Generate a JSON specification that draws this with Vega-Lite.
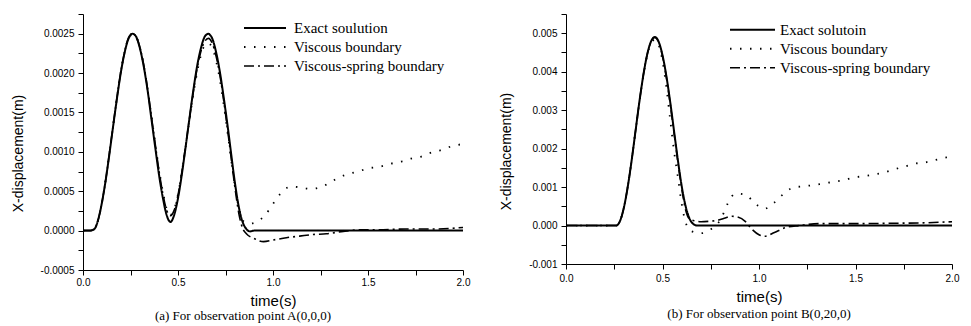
{
  "$schema": "https://vega.github.io/schema/vega-lite/v6.json",
  "padding": {"left": 11, "top": 9, "right": 5, "bottom": 0},
  "spacing": 29,
  "config": {
    "view": {"stroke": null},
    "axis": {"grid": false, "domainColor": "black", "tickColor": "black", "labelColor": "black", "labelFont": "Liberation Sans", "labelFontSize": 10, "titleFont": "Liberation Sans", "titleFontWeight": "normal", "titleColor": "black", "labelFlush": false, "labelOverlap": false},
    "title": {"font": "Liberation Serif", "fontSize": 13, "fontWeight": "normal", "color": "black", "orient": "bottom", "anchor": "middle"}
  },
  "resolve": {"scale": {"x": "independent", "y": "independent", "strokeDash": "independent", "strokeWidth": "independent"}, "legend": {"strokeDash": "independent"}},
  "datasets": {
    "left": [
      {"s": "Exact soulution", "t": 0, "v": 0}, {"s": "Exact soulution", "t": 0.02, "v": 0}, {"s": "Exact soulution", "t": 0.04, "v": 0.000002}, {"s": "Exact soulution", "t": 0.06, "v": 0.00002}, {"s": "Exact soulution", "t": 0.08, "v": 0.00014}, {"s": "Exact soulution", "t": 0.10, "v": 0.00036}, {"s": "Exact soulution", "t": 0.12, "v": 0.00065}, {"s": "Exact soulution", "t": 0.14, "v": 0.00099}, {"s": "Exact soulution", "t": 0.16, "v": 0.00135}, {"s": "Exact soulution", "t": 0.18, "v": 0.0017}, {"s": "Exact soulution", "t": 0.20, "v": 0.00202}, {"s": "Exact soulution", "t": 0.22, "v": 0.00227}, {"s": "Exact soulution", "t": 0.24, "v": 0.00244}, {"s": "Exact soulution", "t": 0.25, "v": 0.00248}, {"s": "Exact soulution", "t": 0.26, "v": 0.0025}, {"s": "Exact soulution", "t": 0.27, "v": 0.00249}, {"s": "Exact soulution", "t": 0.28, "v": 0.00246}, {"s": "Exact soulution", "t": 0.30, "v": 0.00231}, {"s": "Exact soulution", "t": 0.32, "v": 0.00208}, {"s": "Exact soulution", "t": 0.34, "v": 0.00178}, {"s": "Exact soulution", "t": 0.36, "v": 0.00142}, {"s": "Exact soulution", "t": 0.38, "v": 0.00106}, {"s": "Exact soulution", "t": 0.40, "v": 0.00071}, {"s": "Exact soulution", "t": 0.42, "v": 0.00042}, {"s": "Exact soulution", "t": 0.44, "v": 0.0002}, {"s": "Exact soulution", "t": 0.46, "v": 0.00011}, {"s": "Exact soulution", "t": 0.48, "v": 0.0002}, {"s": "Exact soulution", "t": 0.50, "v": 0.00041}, {"s": "Exact soulution", "t": 0.52, "v": 0.00071}, {"s": "Exact soulution", "t": 0.54, "v": 0.00106}, {"s": "Exact soulution", "t": 0.56, "v": 0.00142}, {"s": "Exact soulution", "t": 0.58, "v": 0.00177}, {"s": "Exact soulution", "t": 0.60, "v": 0.00208}, {"s": "Exact soulution", "t": 0.62, "v": 0.00231}, {"s": "Exact soulution", "t": 0.64, "v": 0.00246}, {"s": "Exact soulution", "t": 0.65, "v": 0.00249}, {"s": "Exact soulution", "t": 0.66, "v": 0.0025}, {"s": "Exact soulution", "t": 0.67, "v": 0.00248}, {"s": "Exact soulution", "t": 0.68, "v": 0.00244}, {"s": "Exact soulution", "t": 0.70, "v": 0.00227}, {"s": "Exact soulution", "t": 0.72, "v": 0.00202}, {"s": "Exact soulution", "t": 0.74, "v": 0.0017}, {"s": "Exact soulution", "t": 0.76, "v": 0.00135}, {"s": "Exact soulution", "t": 0.78, "v": 0.00097}, {"s": "Exact soulution", "t": 0.80, "v": 0.0006}, {"s": "Exact soulution", "t": 0.82, "v": 0.0003}, {"s": "Exact soulution", "t": 0.84, "v": 0.00011}, {"s": "Exact soulution", "t": 0.86, "v": 0.00002}, {"s": "Exact soulution", "t": 0.88, "v": -0.00001}, {"s": "Exact soulution", "t": 0.90, "v": 0}, {"s": "Exact soulution", "t": 1.0, "v": 0}, {"s": "Exact soulution", "t": 1.5, "v": 0}, {"s": "Exact soulution", "t": 2.0, "v": 0},
      {"s": "Viscous boundary", "t": 0, "v": 0}, {"s": "Viscous boundary", "t": 0.04, "v": 0}, {"s": "Viscous boundary", "t": 0.06, "v": 0.00002}, {"s": "Viscous boundary", "t": 0.08, "v": 0.00014}, {"s": "Viscous boundary", "t": 0.10, "v": 0.00036}, {"s": "Viscous boundary", "t": 0.12, "v": 0.00066}, {"s": "Viscous boundary", "t": 0.14, "v": 0.001}, {"s": "Viscous boundary", "t": 0.16, "v": 0.00136}, {"s": "Viscous boundary", "t": 0.18, "v": 0.00171}, {"s": "Viscous boundary", "t": 0.20, "v": 0.00203}, {"s": "Viscous boundary", "t": 0.22, "v": 0.00228}, {"s": "Viscous boundary", "t": 0.24, "v": 0.00245}, {"s": "Viscous boundary", "t": 0.26, "v": 0.0025}, {"s": "Viscous boundary", "t": 0.28, "v": 0.00246}, {"s": "Viscous boundary", "t": 0.30, "v": 0.00232}, {"s": "Viscous boundary", "t": 0.32, "v": 0.0021}, {"s": "Viscous boundary", "t": 0.34, "v": 0.0018}, {"s": "Viscous boundary", "t": 0.36, "v": 0.00146}, {"s": "Viscous boundary", "t": 0.38, "v": 0.00111}, {"s": "Viscous boundary", "t": 0.40, "v": 0.00078}, {"s": "Viscous boundary", "t": 0.42, "v": 0.0005}, {"s": "Viscous boundary", "t": 0.44, "v": 0.00028}, {"s": "Viscous boundary", "t": 0.46, "v": 0.0002}, {"s": "Viscous boundary", "t": 0.48, "v": 0.00027}, {"s": "Viscous boundary", "t": 0.50, "v": 0.00046}, {"s": "Viscous boundary", "t": 0.52, "v": 0.00074}, {"s": "Viscous boundary", "t": 0.54, "v": 0.00106}, {"s": "Viscous boundary", "t": 0.56, "v": 0.0014}, {"s": "Viscous boundary", "t": 0.58, "v": 0.00172}, {"s": "Viscous boundary", "t": 0.60, "v": 0.002}, {"s": "Viscous boundary", "t": 0.62, "v": 0.00222}, {"s": "Viscous boundary", "t": 0.64, "v": 0.00235}, {"s": "Viscous boundary", "t": 0.66, "v": 0.00238}, {"s": "Viscous boundary", "t": 0.68, "v": 0.00232}, {"s": "Viscous boundary", "t": 0.70, "v": 0.00216}, {"s": "Viscous boundary", "t": 0.72, "v": 0.00192}, {"s": "Viscous boundary", "t": 0.74, "v": 0.00161}, {"s": "Viscous boundary", "t": 0.76, "v": 0.00126}, {"s": "Viscous boundary", "t": 0.78, "v": 0.0009}, {"s": "Viscous boundary", "t": 0.80, "v": 0.00056}, {"s": "Viscous boundary", "t": 0.82, "v": 0.00029}, {"s": "Viscous boundary", "t": 0.84, "v": 0.00013}, {"s": "Viscous boundary", "t": 0.86, "v": 0.0001}, {"s": "Viscous boundary", "t": 0.88, "v": 0.00009}, {"s": "Viscous boundary", "t": 0.92, "v": 0.00012}, {"s": "Viscous boundary", "t": 0.96, "v": 0.0002}, {"s": "Viscous boundary", "t": 1.0, "v": 0.00034}, {"s": "Viscous boundary", "t": 1.04, "v": 0.00047}, {"s": "Viscous boundary", "t": 1.08, "v": 0.00055}, {"s": "Viscous boundary", "t": 1.1, "v": 0.00056}, {"s": "Viscous boundary", "t": 1.14, "v": 0.00055}, {"s": "Viscous boundary", "t": 1.2, "v": 0.00053}, {"s": "Viscous boundary", "t": 1.25, "v": 0.00055}, {"s": "Viscous boundary", "t": 1.3, "v": 0.00061}, {"s": "Viscous boundary", "t": 1.35, "v": 0.00068}, {"s": "Viscous boundary", "t": 1.4, "v": 0.00072}, {"s": "Viscous boundary", "t": 1.46, "v": 0.00076}, {"s": "Viscous boundary", "t": 1.5, "v": 0.00079}, {"s": "Viscous boundary", "t": 1.56, "v": 0.00081}, {"s": "Viscous boundary", "t": 1.62, "v": 0.00085}, {"s": "Viscous boundary", "t": 1.68, "v": 0.00088}, {"s": "Viscous boundary", "t": 1.72, "v": 0.00091}, {"s": "Viscous boundary", "t": 1.78, "v": 0.00094}, {"s": "Viscous boundary", "t": 1.82, "v": 0.00098}, {"s": "Viscous boundary", "t": 1.88, "v": 0.00102}, {"s": "Viscous boundary", "t": 1.94, "v": 0.00107}, {"s": "Viscous boundary", "t": 2.0, "v": 0.0011},
      {"s": "Viscous-spring boundary", "t": 0, "v": 0}, {"s": "Viscous-spring boundary", "t": 0.04, "v": 0}, {"s": "Viscous-spring boundary", "t": 0.06, "v": 0.00002}, {"s": "Viscous-spring boundary", "t": 0.08, "v": 0.00014}, {"s": "Viscous-spring boundary", "t": 0.10, "v": 0.00036}, {"s": "Viscous-spring boundary", "t": 0.12, "v": 0.00065}, {"s": "Viscous-spring boundary", "t": 0.14, "v": 0.001}, {"s": "Viscous-spring boundary", "t": 0.16, "v": 0.00136}, {"s": "Viscous-spring boundary", "t": 0.18, "v": 0.00171}, {"s": "Viscous-spring boundary", "t": 0.20, "v": 0.00203}, {"s": "Viscous-spring boundary", "t": 0.22, "v": 0.00228}, {"s": "Viscous-spring boundary", "t": 0.24, "v": 0.00245}, {"s": "Viscous-spring boundary", "t": 0.26, "v": 0.0025}, {"s": "Viscous-spring boundary", "t": 0.28, "v": 0.00246}, {"s": "Viscous-spring boundary", "t": 0.30, "v": 0.00232}, {"s": "Viscous-spring boundary", "t": 0.32, "v": 0.0021}, {"s": "Viscous-spring boundary", "t": 0.34, "v": 0.0018}, {"s": "Viscous-spring boundary", "t": 0.36, "v": 0.00145}, {"s": "Viscous-spring boundary", "t": 0.38, "v": 0.0011}, {"s": "Viscous-spring boundary", "t": 0.40, "v": 0.00076}, {"s": "Viscous-spring boundary", "t": 0.42, "v": 0.00047}, {"s": "Viscous-spring boundary", "t": 0.44, "v": 0.00026}, {"s": "Viscous-spring boundary", "t": 0.46, "v": 0.00019}, {"s": "Viscous-spring boundary", "t": 0.48, "v": 0.00026}, {"s": "Viscous-spring boundary", "t": 0.50, "v": 0.00045}, {"s": "Viscous-spring boundary", "t": 0.52, "v": 0.00074}, {"s": "Viscous-spring boundary", "t": 0.54, "v": 0.00107}, {"s": "Viscous-spring boundary", "t": 0.56, "v": 0.00142}, {"s": "Viscous-spring boundary", "t": 0.58, "v": 0.00175}, {"s": "Viscous-spring boundary", "t": 0.60, "v": 0.00205}, {"s": "Viscous-spring boundary", "t": 0.62, "v": 0.00227}, {"s": "Viscous-spring boundary", "t": 0.64, "v": 0.0024}, {"s": "Viscous-spring boundary", "t": 0.66, "v": 0.00244}, {"s": "Viscous-spring boundary", "t": 0.68, "v": 0.00238}, {"s": "Viscous-spring boundary", "t": 0.70, "v": 0.00222}, {"s": "Viscous-spring boundary", "t": 0.72, "v": 0.00198}, {"s": "Viscous-spring boundary", "t": 0.74, "v": 0.00166}, {"s": "Viscous-spring boundary", "t": 0.76, "v": 0.0013}, {"s": "Viscous-spring boundary", "t": 0.78, "v": 0.00092}, {"s": "Viscous-spring boundary", "t": 0.80, "v": 0.00054}, {"s": "Viscous-spring boundary", "t": 0.82, "v": 0.00022}, {"s": "Viscous-spring boundary", "t": 0.84, "v": 0.00003}, {"s": "Viscous-spring boundary", "t": 0.86, "v": -0.00004}, {"s": "Viscous-spring boundary", "t": 0.90, "v": -0.0001}, {"s": "Viscous-spring boundary", "t": 0.95, "v": -0.00014}, {"s": "Viscous-spring boundary", "t": 1.0, "v": -0.00012}, {"s": "Viscous-spring boundary", "t": 1.07, "v": -0.00009}, {"s": "Viscous-spring boundary", "t": 1.14, "v": -0.00007}, {"s": "Viscous-spring boundary", "t": 1.21, "v": -0.00005}, {"s": "Viscous-spring boundary", "t": 1.28, "v": -0.00004}, {"s": "Viscous-spring boundary", "t": 1.37, "v": -0.00001}, {"s": "Viscous-spring boundary", "t": 1.45, "v": 0.00001}, {"s": "Viscous-spring boundary", "t": 1.55, "v": 0.00001}, {"s": "Viscous-spring boundary", "t": 1.7, "v": 0.00002}, {"s": "Viscous-spring boundary", "t": 1.85, "v": 0.00002}, {"s": "Viscous-spring boundary", "t": 2.0, "v": 0.00004}
    ],
    "right": [
      {"s": "Exact solutoin", "t": 0, "v": 0}, {"s": "Exact solutoin", "t": 0.26, "v": 0}, {"s": "Exact solutoin", "t": 0.28, "v": 0.00012}, {"s": "Exact solutoin", "t": 0.30, "v": 0.00047}, {"s": "Exact solutoin", "t": 0.32, "v": 0.00101}, {"s": "Exact solutoin", "t": 0.34, "v": 0.00169}, {"s": "Exact solutoin", "t": 0.36, "v": 0.00245}, {"s": "Exact solutoin", "t": 0.38, "v": 0.00321}, {"s": "Exact solutoin", "t": 0.40, "v": 0.00389}, {"s": "Exact solutoin", "t": 0.42, "v": 0.00443}, {"s": "Exact solutoin", "t": 0.44, "v": 0.00478}, {"s": "Exact solutoin", "t": 0.45, "v": 0.00487}, {"s": "Exact solutoin", "t": 0.46, "v": 0.0049}, {"s": "Exact solutoin", "t": 0.47, "v": 0.00487}, {"s": "Exact solutoin", "t": 0.48, "v": 0.00478}, {"s": "Exact solutoin", "t": 0.50, "v": 0.00443}, {"s": "Exact solutoin", "t": 0.52, "v": 0.00389}, {"s": "Exact solutoin", "t": 0.54, "v": 0.00321}, {"s": "Exact solutoin", "t": 0.56, "v": 0.00245}, {"s": "Exact solutoin", "t": 0.58, "v": 0.00169}, {"s": "Exact solutoin", "t": 0.60, "v": 0.00101}, {"s": "Exact solutoin", "t": 0.62, "v": 0.0005}, {"s": "Exact solutoin", "t": 0.64, "v": 0.00018}, {"s": "Exact solutoin", "t": 0.66, "v": 0.00004}, {"s": "Exact solutoin", "t": 0.68, "v": 0}, {"s": "Exact solutoin", "t": 2.0, "v": 0},
      {"s": "Viscous boundary", "t": 0, "v": 0}, {"s": "Viscous boundary", "t": 0.26, "v": 0}, {"s": "Viscous boundary", "t": 0.28, "v": 0.00012}, {"s": "Viscous boundary", "t": 0.30, "v": 0.00047}, {"s": "Viscous boundary", "t": 0.32, "v": 0.00101}, {"s": "Viscous boundary", "t": 0.34, "v": 0.00169}, {"s": "Viscous boundary", "t": 0.36, "v": 0.00245}, {"s": "Viscous boundary", "t": 0.38, "v": 0.0032}, {"s": "Viscous boundary", "t": 0.40, "v": 0.00387}, {"s": "Viscous boundary", "t": 0.42, "v": 0.0044}, {"s": "Viscous boundary", "t": 0.44, "v": 0.00474}, {"s": "Viscous boundary", "t": 0.46, "v": 0.00483}, {"s": "Viscous boundary", "t": 0.48, "v": 0.0047}, {"s": "Viscous boundary", "t": 0.50, "v": 0.00428}, {"s": "Viscous boundary", "t": 0.52, "v": 0.0036}, {"s": "Viscous boundary", "t": 0.54, "v": 0.00275}, {"s": "Viscous boundary", "t": 0.56, "v": 0.00193}, {"s": "Viscous boundary", "t": 0.58, "v": 0.00125}, {"s": "Viscous boundary", "t": 0.60, "v": 0.00055}, {"s": "Viscous boundary", "t": 0.62, "v": 0.00008}, {"s": "Viscous boundary", "t": 0.65, "v": -0.00015}, {"s": "Viscous boundary", "t": 0.70, "v": -0.0002}, {"s": "Viscous boundary", "t": 0.75, "v": -0.0001}, {"s": "Viscous boundary", "t": 0.80, "v": 0.00015}, {"s": "Viscous boundary", "t": 0.82, "v": 0.00036}, {"s": "Viscous boundary", "t": 0.84, "v": 0.0006}, {"s": "Viscous boundary", "t": 0.88, "v": 0.00083}, {"s": "Viscous boundary", "t": 0.93, "v": 0.0008}, {"s": "Viscous boundary", "t": 0.98, "v": 0.00057}, {"s": "Viscous boundary", "t": 1.03, "v": 0.00044}, {"s": "Viscous boundary", "t": 1.08, "v": 0.0006}, {"s": "Viscous boundary", "t": 1.12, "v": 0.00079}, {"s": "Viscous boundary", "t": 1.18, "v": 0.00099}, {"s": "Viscous boundary", "t": 1.23, "v": 0.00102}, {"s": "Viscous boundary", "t": 1.28, "v": 0.00105}, {"s": "Viscous boundary", "t": 1.33, "v": 0.00109}, {"s": "Viscous boundary", "t": 1.38, "v": 0.00113}, {"s": "Viscous boundary", "t": 1.44, "v": 0.00118}, {"s": "Viscous boundary", "t": 1.49, "v": 0.00125}, {"s": "Viscous boundary", "t": 1.54, "v": 0.00128}, {"s": "Viscous boundary", "t": 1.6, "v": 0.00133}, {"s": "Viscous boundary", "t": 1.65, "v": 0.00138}, {"s": "Viscous boundary", "t": 1.7, "v": 0.00146}, {"s": "Viscous boundary", "t": 1.76, "v": 0.00154}, {"s": "Viscous boundary", "t": 1.81, "v": 0.00161}, {"s": "Viscous boundary", "t": 1.86, "v": 0.00164}, {"s": "Viscous boundary", "t": 1.91, "v": 0.0017}, {"s": "Viscous boundary", "t": 1.97, "v": 0.00177}, {"s": "Viscous boundary", "t": 2.0, "v": 0.00179},
      {"s": "Viscous-spring boundary", "t": 0, "v": 0}, {"s": "Viscous-spring boundary", "t": 0.26, "v": 0}, {"s": "Viscous-spring boundary", "t": 0.28, "v": 0.00012}, {"s": "Viscous-spring boundary", "t": 0.30, "v": 0.00047}, {"s": "Viscous-spring boundary", "t": 0.32, "v": 0.00101}, {"s": "Viscous-spring boundary", "t": 0.34, "v": 0.00169}, {"s": "Viscous-spring boundary", "t": 0.36, "v": 0.00245}, {"s": "Viscous-spring boundary", "t": 0.38, "v": 0.00321}, {"s": "Viscous-spring boundary", "t": 0.40, "v": 0.00389}, {"s": "Viscous-spring boundary", "t": 0.42, "v": 0.00443}, {"s": "Viscous-spring boundary", "t": 0.44, "v": 0.00478}, {"s": "Viscous-spring boundary", "t": 0.46, "v": 0.00489}, {"s": "Viscous-spring boundary", "t": 0.48, "v": 0.00477}, {"s": "Viscous-spring boundary", "t": 0.50, "v": 0.0044}, {"s": "Viscous-spring boundary", "t": 0.52, "v": 0.00385}, {"s": "Viscous-spring boundary", "t": 0.54, "v": 0.00316}, {"s": "Viscous-spring boundary", "t": 0.56, "v": 0.0024}, {"s": "Viscous-spring boundary", "t": 0.58, "v": 0.00164}, {"s": "Viscous-spring boundary", "t": 0.60, "v": 0.00095}, {"s": "Viscous-spring boundary", "t": 0.62, "v": 0.0004}, {"s": "Viscous-spring boundary", "t": 0.64, "v": 0.00017}, {"s": "Viscous-spring boundary", "t": 0.67, "v": 0.00012}, {"s": "Viscous-spring boundary", "t": 0.70, "v": 0.0001}, {"s": "Viscous-spring boundary", "t": 0.74, "v": 0.00011}, {"s": "Viscous-spring boundary", "t": 0.78, "v": 0.00013}, {"s": "Viscous-spring boundary", "t": 0.82, "v": 0.00019}, {"s": "Viscous-spring boundary", "t": 0.86, "v": 0.00024}, {"s": "Viscous-spring boundary", "t": 0.89, "v": 0.00022}, {"s": "Viscous-spring boundary", "t": 0.93, "v": 0.0001}, {"s": "Viscous-spring boundary", "t": 0.96, "v": -0.00008}, {"s": "Viscous-spring boundary", "t": 1.0, "v": -0.00024}, {"s": "Viscous-spring boundary", "t": 1.03, "v": -0.00028}, {"s": "Viscous-spring boundary", "t": 1.08, "v": -0.00018}, {"s": "Viscous-spring boundary", "t": 1.14, "v": -0.00005}, {"s": "Viscous-spring boundary", "t": 1.21, "v": 0}, {"s": "Viscous-spring boundary", "t": 1.31, "v": 0.00005}, {"s": "Viscous-spring boundary", "t": 1.5, "v": 0.00005}, {"s": "Viscous-spring boundary", "t": 1.7, "v": 0.00006}, {"s": "Viscous-spring boundary", "t": 1.85, "v": 0.00007}, {"s": "Viscous-spring boundary", "t": 2.0, "v": 0.0001}
    ]
  },
  "hconcat": [
    {
      "width": 380,
      "height": 256,
      "data": {"name": "left"},
      "title": {"text": "(a) For observation point A(0,0,0)", "dx": -30, "offset": 2},
      "mark": {"type": "line", "stroke": "black", "interpolate": "monotone"},
      "encoding": {
        "x": {"field": "t", "type": "quantitative", "scale": {"domain": [0, 2], "nice": false},
          "axis": {"title": "time(s)", "titleFontSize": 15, "titlePadding": 6, "values": [0, 0.25, 0.5, 0.75, 1, 1.25, 1.5, 1.75, 2], "labelExpr": "round(datum.value*100) % 50 == 0 ? format(datum.value, '.1f') : ''", "tickSize": 5, "labelPadding": 2}},
        "y": {"field": "v", "type": "quantitative", "scale": {"domain": [-0.0005, 0.00275], "nice": false, "zero": false},
          "axis": {"title": "X-displacement(m)", "titleFontSize": 14, "titleX": -65, "titleY": 139, "titleBaseline": "middle", "values": [-0.0005, -0.00025, 0, 0.00025, 0.0005, 0.00075, 0.001, 0.00125, 0.0015, 0.00175, 0.002, 0.00225, 0.0025, 0.00275], "labelExpr": "abs(round(datum.value*10000)) % 5 == 0 ? replace(format(datum.value, '.4f'), '\u2212', '-') : ''", "tickSize": 5, "labelPadding": 4}},
        "strokeDash": {"field": "s", "type": "nominal", "scale": {"domain": ["Exact soulution", "Viscous boundary", "Viscous-spring boundary"], "range": [[1, 0], [1.5, 8.5], [10, 4, 2, 4]]},
          "legend": {"orient": "none", "legendX": 160, "legendY": 4.5, "title": null, "padding": 0, "symbolType": "stroke", "symbolSize": 1764, "symbolStrokeWidth": 1.6, "symbolStrokeColor": "black", "labelFont": "Liberation Serif", "labelFontSize": 15, "labelColor": "black", "labelOffset": 7, "labelLimit": 300, "clipHeight": 19, "rowPadding": 0}},
        "strokeWidth": {"field": "s", "type": "nominal", "scale": {"domain": ["Exact soulution", "Viscous boundary", "Viscous-spring boundary"], "range": [2, 1.6, 1.6]}, "legend": null}
      }
    },
    {
      "width": 386,
      "height": 250,
      "data": {"name": "right"},
      "title": {"text": "(b) For observation point B(0,20,0)", "offset": 4},
      "mark": {"type": "line", "stroke": "black", "interpolate": "monotone"},
      "encoding": {
        "x": {"field": "t", "type": "quantitative", "scale": {"domain": [0, 2], "nice": false},
          "axis": {"title": "time(s)", "titleFontSize": 15, "titlePadding": 6, "values": [0, 0.25, 0.5, 0.75, 1, 1.25, 1.5, 1.75, 2], "labelExpr": "round(datum.value*100) % 50 == 0 ? format(datum.value, '.1f') : ''", "tickSize": 5, "labelPadding": 4}},
        "y": {"field": "v", "type": "quantitative", "scale": {"domain": [-0.001, 0.0055], "nice": false, "zero": false},
          "axis": {"title": "X-displacement(m)", "titleFontSize": 14, "titleX": -60, "titleY": 137, "titleBaseline": "middle", "values": [-0.001, -0.0005, 0, 0.0005, 0.001, 0.0015, 0.002, 0.0025, 0.003, 0.0035, 0.004, 0.0045, 0.005, 0.0055], "labelExpr": "abs(round(datum.value*2000)) % 2 == 0 ? replace(format(datum.value, '.3f'), '\u2212', '-') : ''", "tickSize": 5, "labelPadding": 4}},
        "strokeDash": {"field": "s", "type": "nominal", "scale": {"domain": ["Exact solutoin", "Viscous boundary", "Viscous-spring boundary"], "range": [[1, 0], [1.5, 8.5], [10, 4, 2, 4]]},
          "legend": {"orient": "none", "legendX": 163, "legendY": 6.5, "title": null, "padding": 0, "symbolType": "stroke", "symbolSize": 2025, "symbolStrokeWidth": 1.6, "symbolStrokeColor": "black", "labelFont": "Liberation Serif", "labelFontSize": 15, "labelColor": "black", "labelOffset": 4, "labelLimit": 300, "clipHeight": 18.5, "rowPadding": 0}},
        "strokeWidth": {"field": "s", "type": "nominal", "scale": {"domain": ["Exact solutoin", "Viscous boundary", "Viscous-spring boundary"], "range": [2, 1.6, 1.6]}, "legend": null}
      }
    }
  ]
}
